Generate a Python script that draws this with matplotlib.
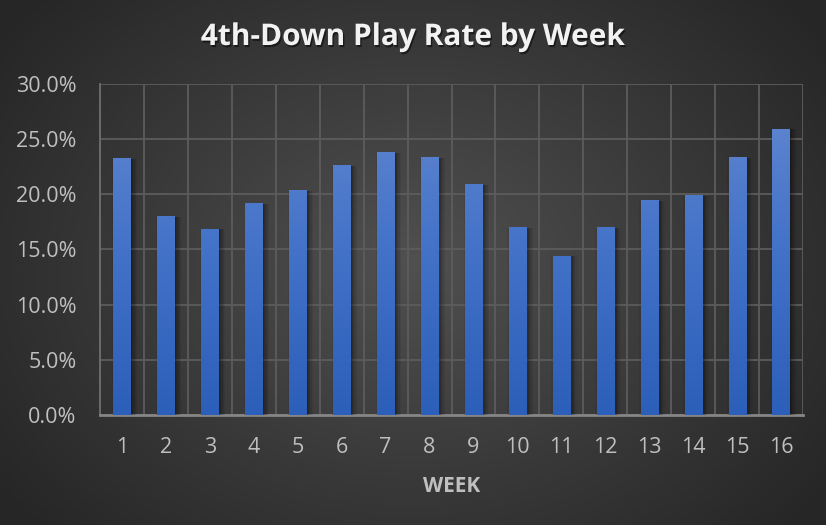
import numpy as np
import matplotlib
matplotlib.use("Agg")
import matplotlib.pyplot as plt
from matplotlib.ticker import FuncFormatter, MultipleLocator
from matplotlib import patheffects as pe
from matplotlib.colors import LinearSegmentedColormap

weeks = list(range(1, 17))
rates = [23.25, 18.0, 16.9, 19.2, 20.35, 22.65, 23.8, 23.35,
         20.9, 17.0, 14.45, 17.0, 19.5, 19.9, 23.35, 25.95]
title = "4th-Down Play Rate by Week"
xlabel = "WEEK"

W, H = 826, 525
fig = plt.figure(figsize=(W / 100, H / 100), dpi=100)

# radial gradient background
bg = fig.add_axes([0, 0, 1, 1])
yy, xx = np.mgrid[0:H, 0:W]
r = np.sqrt(((xx - W * 0.5) / (W * 0.62)) ** 2 + ((yy - H * 0.5) / (H * 0.75)) ** 2)
r = np.clip(r, 0, 1)
c0 = np.array([0x50, 0x50, 0x50]) / 255
c1 = np.array([0x26, 0x26, 0x26]) / 255
img = c0[None, None, :] * (1 - r[..., None]) + c1[None, None, :] * r[..., None]
bg.imshow(img, aspect="auto", extent=[0, 1, 0, 1], origin="upper")
bg.set_axis_off()

ax = fig.add_axes([100 / W, 1 - 415 / H, 703 / W, 331 / H])
ax.set_facecolor("none")
ax.set_xlim(0.5, 16.5)
ax.set_ylim(0, 30)

shadow = [pe.SimplePatchShadow(offset=(d, -0.5), shadow_rgbFace="black", alpha=a)
          for d, a in [(5, 0.06), (4, 0.08), (3, 0.1), (2, 0.12), (1, 0.12), (-1, 0.06)]]
cmap = LinearSegmentedColormap.from_list("b", ["#2c5fb9", "#4372c8", "#6489d1"])
bars = ax.bar(weeks, rates, width=0.39, color="#4472c4", zorder=3,
              path_effects=shadow + [pe.Normal()])
grad = np.linspace(0, 1, 256).reshape(-1, 1)
for b in bars:
    x0 = b.get_x()
    w = b.get_width()
    im = ax.imshow(grad, cmap=cmap, aspect="auto", origin="lower",
                   extent=[x0, x0 + w, 0, 30], zorder=4, vmin=0, vmax=1)
    im.set_clip_path(b)

ax.set_xticks(weeks)
ax.set_xticks(np.arange(0.5, 17, 1), minor=True)
ax.yaxis.set_major_locator(MultipleLocator(5))
ax.yaxis.set_major_formatter(FuncFormatter(lambda v, p: f"{v:.1f}%"))
ax.grid(True, axis="y", which="major", color="#5c5c5c", linewidth=1.3, zorder=1)
ax.grid(True, axis="x", which="minor", color="#5c5c5c", linewidth=1.3, zorder=1)
ax.grid(False, axis="x", which="major")
ax.tick_params(axis="both", which="both", length=0)
ax.tick_params(axis="y", pad=17, labelsize=15.5, labelcolor="#bfbfbf")
ax.tick_params(axis="x", pad=16, labelsize=15.5, labelcolor="#bfbfbf")
for lab in ax.get_xticklabels() + ax.get_yticklabels():
    lab.set_fontfamily("Open Sans")
for s in ["top", "right"]:
    ax.spines[s].set_visible(False)
ax.spines["left"].set_color("#6e6e6e")
ax.spines["left"].set_linewidth(1.3)
ax.spines["bottom"].set_color("#858585")
ax.spines["bottom"].set_linewidth(2)

fig.text(0.5, 1 - 37 / H, title, ha="center", va="center", fontsize=21.5,
         fontweight="bold", color="#f2f2f2", family="Open Sans",
         path_effects=[pe.withSimplePatchShadow(offset=(1, -1.5), shadow_rgbFace="black", alpha=0.5)])
fig.text((100 + 803) / 2 / W, 1 - 486 / H, xlabel, ha="center", va="center",
         fontsize=15, fontweight="bold", color="#bfbfbf", family="Open Sans")

fig.savefig("out.png", dpi=100)
